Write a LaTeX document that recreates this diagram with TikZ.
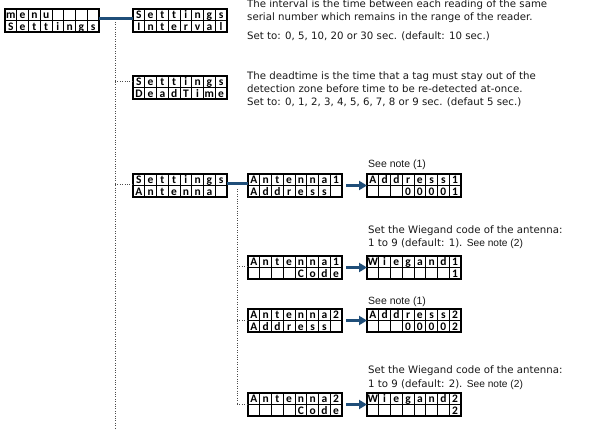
\documentclass[tikz,border=0pt]{standalone}
\usepackage{fontspec}
\setmainfont{DejaVu Sans}
\newfontfamily\notefont{Liberation Sans}
\newfontfamily\cellfont{Carlito}
\usetikzlibrary{calc,arrows.meta}
\definecolor{linkblue}{RGB}{31,78,121}
\definecolor{txt}{RGB}{25,25,25}
\tikzset{
  lcdbox/.style={draw, line width=1.1pt, minimum width=94pt, minimum height=23pt, inner sep=0pt, outer sep=0pt},
  gridline/.style={line width=0.9pt},
  cellch/.style={inner sep=0pt, anchor=base, font=\cellfont\bfseries\fontsize{11.5}{11.5}\selectfont},
  desc/.style={anchor=base west, inner sep=0pt, text=txt, font=\fontsize{10.2}{13}\selectfont},
  note/.style={anchor=base west, inner sep=0pt, text=txt, font=\notefont\fontsize{10.5}{12}\selectfont},
  link/.style={draw=linkblue, line width=2.4pt},
  linkarrow/.style={draw=linkblue, line width=2.4pt, -{Triangle[length=8pt,width=9pt]}},
  dotline/.style={draw=black!70, line width=0.7pt, dash pattern=on 0.8pt off 1.6pt}
}
\newcommand{\lcd}[4]{%
  \node[lcdbox, anchor=north west] (#1) at (#2) {};
  \foreach \k in {1,...,7}
    \draw[gridline] ($(#1.north west)+(\k*11.75,0)$) -- ($(#1.south west)+(\k*11.75,0)$);
  \draw[gridline] (#1.west) -- (#1.east);
  \foreach \c [count=\i] in {#3}
    \node[cellch] (#1-a\i) at ($(#1.north west)+(\i*11.75-5.875,9.9)$) {\c};
  \foreach \c [count=\i] in {#4}
    \node[cellch] (#1-b\i) at ($(#1.west)+(\i*11.75-5.875,9.9)$) {\c};
}
\begin{document}
\begin{tikzpicture}[x=1pt,y=-1pt]
\useasboundingbox[fill=white] (0,0) rectangle (595,430);

% boxes
\lcd{A}{5,9}{m,e,n,u,{},{},{},{}}{S,e,t,t,i,n,g,s}
\lcd{B}{133,9}{S,e,t,t,i,n,g,s}{I,n,t,e,r,v,a,l}
\lcd{C}{133,76}{S,e,t,t,i,n,g,s}{D,e,a,d,T,i,m,e}
\lcd{D}{133,174}{S,e,t,t,i,n,g,s}{A,n,t,e,n,n,a,{}}
\lcd{E}{248,174}{A,n,t,e,n,n,a,1}{A,d,d,r,e,s,s,{}}
\lcd{F}{367,174}{A,d,d,r,e,s,s,1}{{},{},{},0,0,0,0,1}
\lcd{G}{248,256}{A,n,t,e,n,n,a,1}{{},{},{},{},C,o,d,e}
\lcd{H}{367,256}{W,i,e,g,a,n,d,1}{{},{},{},{},{},{},{},1}
\lcd{I}{248,309}{A,n,t,e,n,n,a,2}{A,d,d,r,e,s,s,{}}
\lcd{J}{367,309}{A,d,d,r,e,s,s,2}{{},{},{},0,0,0,0,2}
\lcd{K}{248,393}{A,n,t,e,n,n,a,2}{{},{},{},{},C,o,d,e}
\lcd{L}{367,393}{W,i,e,g,a,n,d,2}{{},{},{},{},{},{},{},2}

% dotted trees
\coordinate (v1top) at (115,22);
\coordinate (v1bot) at (115,430);
\draw[dotline] (v1top) -- (v1bot);
\draw[dotline] ([yshift=6pt]C.west -| v1top) -- ([yshift=6pt]C.west);
\draw[dotline] ([yshift=1pt]D.west -| v1top) -- ([yshift=1pt]D.west);

\coordinate (v2top) at (237,189);
\coordinate (v2bot) at ($(K.west)+(-11,0)$);
\draw[dotline] (v2top) -- (v2bot);
\draw[dotline] ([yshift=1pt]G.west -| v2top) -- ([yshift=1pt]G.west);
\draw[dotline] (I.west -| v2top) -- (I.west);
\draw[dotline] (v2bot) -- (K.west);

% links
\draw[link] ([yshift=2pt]A.east) -- ([yshift=2pt]B.west);
\draw[link] ([yshift=2pt]D.east) -- ([yshift=2pt]E.west);
\draw[linkarrow] ([xshift=4pt]E.east) -- (F.west);
\draw[linkarrow] ([xshift=4pt]G.east) -- (H.west);
\draw[linkarrow] ([xshift=4pt]I.east) -- (J.west);
\draw[linkarrow] ([xshift=4pt]K.east) -- (L.west);

% texts
\node[desc] (t1a) at (247,7.5) {The interval is the time between each reading of the same};
\node[desc] (t1b) at (247,20.5) {serial number which remains in the range of the reader.};
\node[desc] (t1c) at (247,39.5) {Set to: 0, 5, 10, 20 or 30 sec. (default: 10 sec.)};

\node[desc] (t2a) at (247,79.5) {The deadtime is the time that a tag must stay out of the};
\node[desc] (t2b) at (247,93) {detection zone before time to be re-detected at-once.};
\node[desc] (t2c) at (247,106) {Set to: 0, 1, 2, 3, 4, 5, 6, 7, 8 or 9 sec. (defaut 5 sec.)};

\node[note] (t3) at (368,168) {See note (1)};

\node[desc] (t4a) at (368,233.5) {Set the Wiegand code of the antenna:};
\node[desc] (t4b) at (368,246.5) {1 to 9 (default: 1). {\notefont See note (2)}};

\node[note] (t5) at (368,305) {See note (1)};

\node[desc] (t6a) at (368,373.5) {Set the Wiegand code of the antenna:};
\node[desc] (t6b) at (368,387.5) {1 to 9 (default: 2). {\notefont See note (2)}};
\end{tikzpicture}
\end{document}
